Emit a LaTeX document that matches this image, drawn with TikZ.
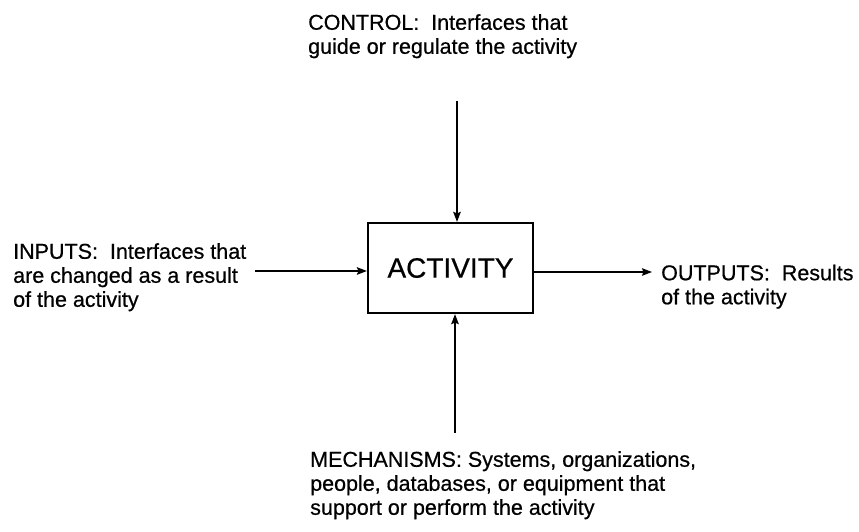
\documentclass[tikz,border=0pt]{standalone}
\usepackage{fontspec}
\setmainfont{Liberation Sans}[FakeBold=0.6]
\usetikzlibrary{arrows.meta}

\tikzset{
  label text/.style={anchor=north west, align=left, inner sep=0pt,
    font=\fontsize{21.5}{24}\selectfont},
  flow/.style={line width=1.6pt, -{Stealth[length=10pt,width=7.5pt,inset=1.5pt]}},
  activity box/.style={draw, line width=2.2pt, minimum width=165pt, minimum height=90pt,
    inner sep=0pt, font=\fontsize{28}{30}\selectfont}
}

\begin{document}
\begin{tikzpicture}[x=1pt,y=-1pt]
\useasboundingbox (0,0) rectangle (859,532);

% the activity box
\node[activity box] (act) at (450.5,268) {ACTIVITY};

% labels
\node[label text] (control) at (308,14) {CONTROL:\ \ Interfaces that\\guide or regulate the activity};
\node[label text] (inputs) at (13,243) {INPUTS:\ \ Interfaces that\\are changed as a result\\of the activity};
\node[label text] (outputs) at (661,264.5) {OUTPUTS:\ \ Results\\of the activity};
\node[label text] (mechs) at (310,451) {MECHANISMS: Systems, organizations,\\people, databases, or equipment that\\support or perform the activity};

% arrow ends
\coordinate (ctrltail) at (457,101);
\coordinate (intail) at (255,271);
\coordinate (outhead) at (652,272);
\coordinate (mechtail) at (455,433);

\draw[flow] (ctrltail) -- (ctrltail |- act.north);
\draw[flow] (intail) -- (intail -| act.west);
\draw[flow] (outhead -| act.east) -- (outhead);
\draw[flow] (mechtail) -- (mechtail |- act.south);
\end{tikzpicture}
\end{document}
